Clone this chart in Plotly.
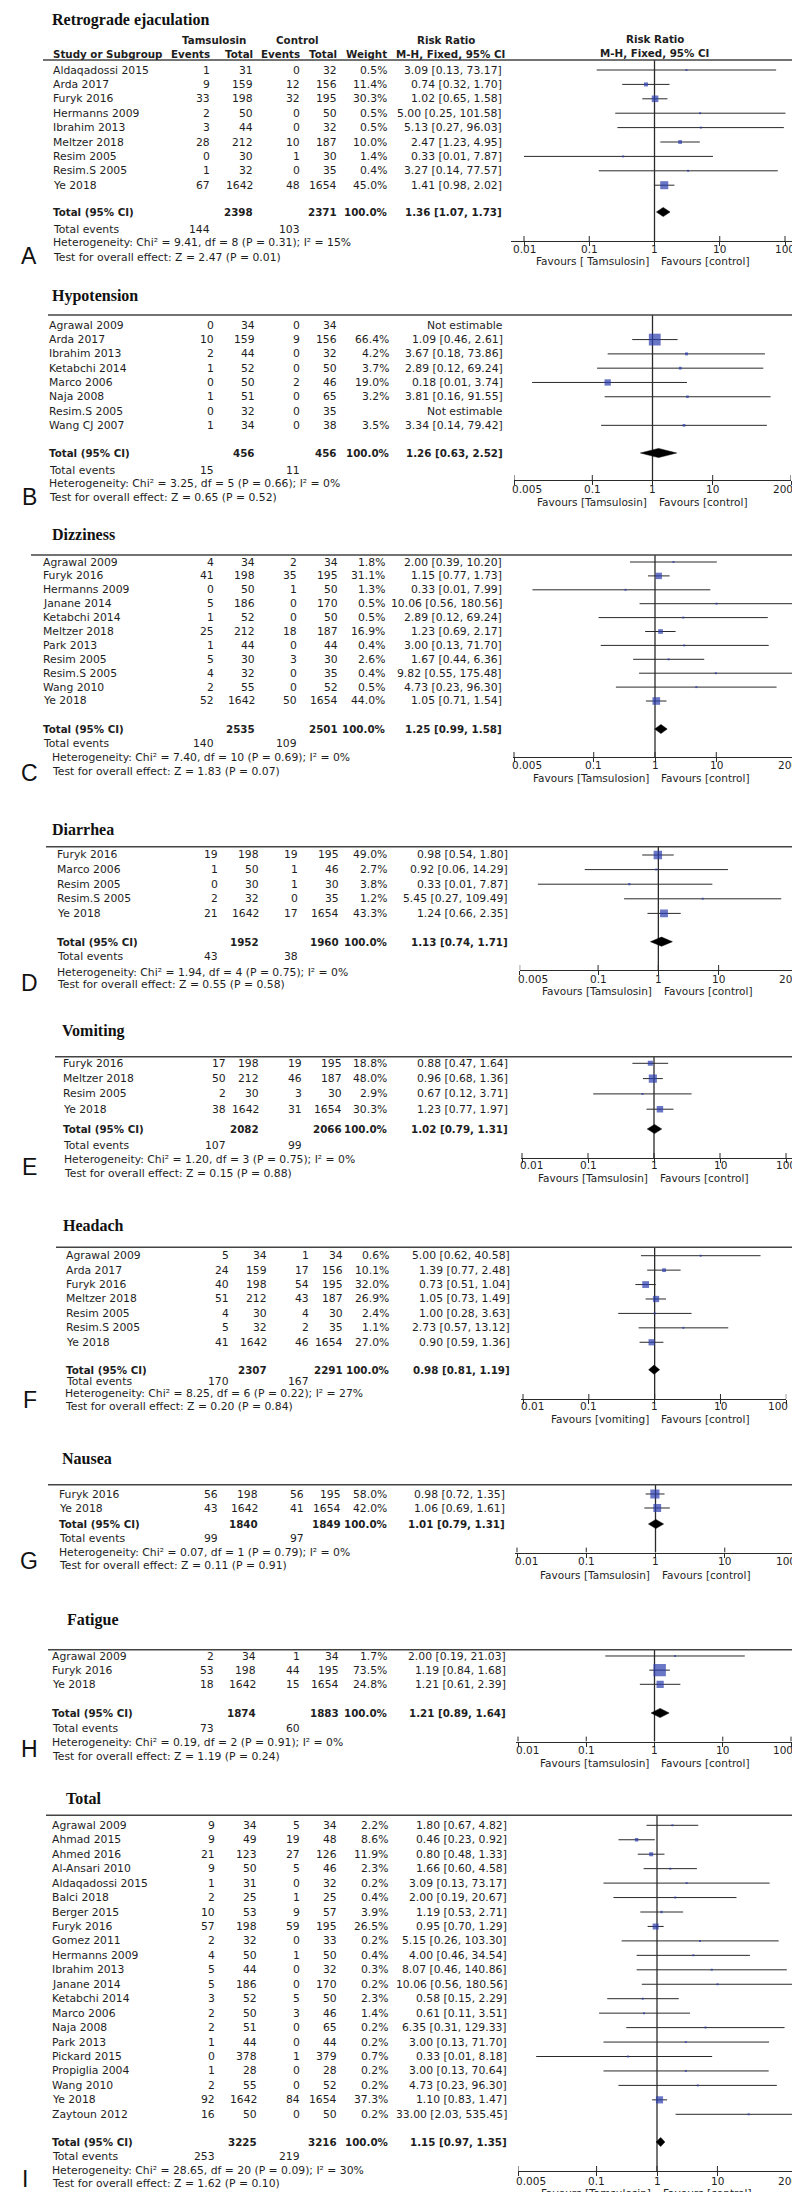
import math
import plotly.graph_objects as go

W, H = 800, 2192

# ======================= DATA =======================
# A  Retrograde ejaculation
retro_study = ["Aldaqadossi 2015", "Arda 2017", "Furyk 2016", "Hermanns 2009", "Ibrahim 2013",
               "Meltzer 2018", "Resim 2005", "Resim.S 2005", "Ye 2018"]
retro_ev_t = [1, 9, 33, 2, 3, 28, 0, 1, 67]
retro_n_t = [31, 159, 198, 50, 44, 212, 30, 32, 1642]
retro_ev_c = [0, 12, 32, 0, 0, 10, 1, 0, 48]
retro_n_c = [32, 156, 195, 50, 32, 187, 30, 35, 1654]
retro_weight = [0.5, 11.4, 30.3, 0.5, 0.5, 10.0, 1.4, 0.4, 45.0]
retro_rr = [3.09, 0.74, 1.02, 5.00, 5.13, 2.47, 0.33, 3.27, 1.41]
retro_lo = [0.13, 0.32, 0.65, 0.25, 0.27, 1.23, 0.01, 0.14, 0.98]
retro_hi = [73.17, 1.70, 1.58, 101.58, 96.03, 4.95, 7.87, 77.57, 2.02]
retro_pooled = [1.36, 1.07, 1.73]
retro_totals = [2398, 2371, 144, 103]
retro_het = [9.41, 8, 0.31, 15]
retro_z = [2.47, 0.01]

# B  Hypotension
hypo_study = ["Agrawal 2009", "Arda 2017", "Ibrahim 2013", "Ketabchi 2014", "Marco 2006",
              "Naja 2008", "Resim.S 2005", "Wang CJ 2007"]
hypo_ev_t = [0, 10, 2, 1, 0, 1, 0, 1]
hypo_n_t = [34, 159, 44, 52, 50, 51, 32, 34]
hypo_ev_c = [0, 9, 0, 0, 2, 0, 0, 0]
hypo_n_c = [34, 156, 32, 50, 46, 65, 35, 38]
hypo_weight = [None, 66.4, 4.2, 3.7, 19.0, 3.2, None, 3.5]
hypo_rr = [None, 1.09, 3.67, 2.89, 0.18, 3.81, None, 3.34]
hypo_lo = [None, 0.46, 0.18, 0.12, 0.01, 0.16, None, 0.14]
hypo_hi = [None, 2.61, 73.86, 69.24, 3.74, 91.55, None, 79.42]
hypo_pooled = [1.26, 0.63, 2.52]
hypo_totals = [456, 456, 15, 11]
hypo_het = [3.25, 5, 0.66, 0]
hypo_z = [0.65, 0.52]

# C  Dizziness
dizz_study = ["Agrawal 2009", "Furyk 2016", "Hermanns 2009", "Janane 2014", "Ketabchi 2014",
              "Meltzer 2018", "Park 2013", "Resim 2005", "Resim.S 2005", "Wang 2010", "Ye 2018"]
dizz_ev_t = [4, 41, 0, 5, 1, 25, 1, 5, 4, 2, 52]
dizz_n_t = [34, 198, 50, 186, 52, 212, 44, 30, 32, 55, 1642]
dizz_ev_c = [2, 35, 1, 0, 0, 18, 0, 3, 0, 0, 50]
dizz_n_c = [34, 195, 50, 170, 50, 187, 44, 30, 35, 52, 1654]
dizz_weight = [1.8, 31.1, 1.3, 0.5, 0.5, 16.9, 0.4, 2.6, 0.4, 0.5, 44.0]
dizz_rr = [2.00, 1.15, 0.33, 10.06, 2.89, 1.23, 3.00, 1.67, 9.82, 4.73, 1.05]
dizz_lo = [0.39, 0.77, 0.01, 0.56, 0.12, 0.69, 0.13, 0.44, 0.55, 0.23, 0.71]
dizz_hi = [10.20, 1.73, 7.99, 180.56, 69.24, 2.17, 71.70, 6.36, 175.48, 96.30, 1.54]
dizz_pooled = [1.25, 0.99, 1.58]
dizz_totals = [2535, 2501, 140, 109]
dizz_het = [7.40, 10, 0.69, 0]
dizz_z = [1.83, 0.07]

# D  Diarrhea
diar_study = ["Furyk 2016", "Marco 2006", "Resim 2005", "Resim.S 2005", "Ye 2018"]
diar_ev_t = [19, 1, 0, 2, 21]
diar_n_t = [198, 50, 30, 32, 1642]
diar_ev_c = [19, 1, 1, 0, 17]
diar_n_c = [195, 46, 30, 35, 1654]
diar_weight = [49.0, 2.7, 3.8, 1.2, 43.3]
diar_rr = [0.98, 0.92, 0.33, 5.45, 1.24]
diar_lo = [0.54, 0.06, 0.01, 0.27, 0.66]
diar_hi = [1.80, 14.29, 7.87, 109.49, 2.35]
diar_pooled = [1.13, 0.74, 1.71]
diar_totals = [1952, 1960, 43, 38]
diar_het = [1.94, 4, 0.75, 0]
diar_z = [0.55, 0.58]

# E  Vomiting
vomi_study = ["Furyk 2016", "Meltzer 2018", "Resim 2005", "Ye 2018"]
vomi_ev_t = [17, 50, 2, 38]
vomi_n_t = [198, 212, 30, 1642]
vomi_ev_c = [19, 46, 3, 31]
vomi_n_c = [195, 187, 30, 1654]
vomi_weight = [18.8, 48.0, 2.9, 30.3]
vomi_rr = [0.88, 0.96, 0.67, 1.23]
vomi_lo = [0.47, 0.68, 0.12, 0.77]
vomi_hi = [1.64, 1.36, 3.71, 1.97]
vomi_pooled = [1.02, 0.79, 1.31]
vomi_totals = [2082, 2066, 107, 99]
vomi_het = [1.20, 3, 0.75, 0]
vomi_z = [0.15, 0.88]

# F  Headach
head_study = ["Agrawal 2009", "Arda 2017", "Furyk 2016", "Meltzer 2018", "Resim 2005",
              "Resim.S 2005", "Ye 2018"]
head_ev_t = [5, 24, 40, 51, 4, 5, 41]
head_n_t = [34, 159, 198, 212, 30, 32, 1642]
head_ev_c = [1, 17, 54, 43, 4, 2, 46]
head_n_c = [34, 156, 195, 187, 30, 35, 1654]
head_weight = [0.6, 10.1, 32.0, 26.9, 2.4, 1.1, 27.0]
head_rr = [5.00, 1.39, 0.73, 1.05, 1.00, 2.73, 0.90]
head_lo = [0.62, 0.77, 0.51, 0.73, 0.28, 0.57, 0.59]
head_hi = [40.58, 2.48, 1.04, 1.49, 3.63, 13.12, 1.36]
head_pooled = [0.98, 0.81, 1.19]
head_totals = [2307, 2291, 170, 167]
head_het = [8.25, 6, 0.22, 27]
head_z = [0.20, 0.84]

# G  Nausea
naus_study = ["Furyk 2016", "Ye 2018"]
naus_ev_t = [56, 43]
naus_n_t = [198, 1642]
naus_ev_c = [56, 41]
naus_n_c = [195, 1654]
naus_weight = [58.0, 42.0]
naus_rr = [0.98, 1.06]
naus_lo = [0.72, 0.69]
naus_hi = [1.35, 1.61]
naus_pooled = [1.01, 0.79, 1.31]
naus_totals = [1840, 1849, 99, 97]
naus_het = [0.07, 1, 0.79, 0]
naus_z = [0.11, 0.91]

# H  Fatigue
fati_study = ["Agrawal 2009", "Furyk 2016", "Ye 2018"]
fati_ev_t = [2, 53, 18]
fati_n_t = [34, 198, 1642]
fati_ev_c = [1, 44, 15]
fati_n_c = [34, 195, 1654]
fati_weight = [1.7, 73.5, 24.8]
fati_rr = [2.00, 1.19, 1.21]
fati_lo = [0.19, 0.84, 0.61]
fati_hi = [21.03, 1.68, 2.39]
fati_pooled = [1.21, 0.89, 1.64]
fati_totals = [1874, 1883, 73, 60]
fati_het = [0.19, 2, 0.91, 0]
fati_z = [1.19, 0.24]

# I  Total
tot_study = ["Agrawal 2009", "Ahmad 2015", "Ahmed 2016", "Al-Ansari 2010", "Aldaqadossi 2015",
             "Balci 2018", "Berger 2015", "Furyk 2016", "Gomez 2011", "Hermanns 2009",
             "Ibrahim 2013", "Janane 2014", "Ketabchi 2014", "Marco 2006", "Naja 2008",
             "Park 2013", "Pickard 2015", "Propiglia 2004", "Wang 2010", "Ye 2018", "Zaytoun 2012"]
tot_ev_t = [9, 9, 21, 9, 1, 2, 10, 57, 2, 4, 5, 5, 3, 2, 2, 1, 0, 1, 2, 92, 16]
tot_n_t = [34, 49, 123, 50, 31, 25, 53, 198, 32, 50, 44, 186, 52, 50, 51, 44, 378, 28, 55, 1642, 50]
tot_ev_c = [5, 19, 27, 5, 0, 1, 9, 59, 0, 1, 0, 0, 5, 3, 0, 0, 1, 0, 0, 84, 0]
tot_n_c = [34, 48, 126, 46, 32, 25, 57, 195, 33, 50, 32, 170, 50, 46, 65, 44, 379, 28, 52, 1654, 50]
tot_weight = [2.2, 8.6, 11.9, 2.3, 0.2, 0.4, 3.9, 26.5, 0.2, 0.4, 0.3, 0.2, 2.3, 1.4, 0.2, 0.2,
              0.7, 0.2, 0.2, 37.3, 0.2]
tot_rr = [1.80, 0.46, 0.80, 1.66, 3.09, 2.00, 1.19, 0.95, 5.15, 4.00, 8.07, 10.06, 0.58, 0.61,
          6.35, 3.00, 0.33, 3.00, 4.73, 1.10, 33.00]
tot_lo = [0.67, 0.23, 0.48, 0.60, 0.13, 0.19, 0.53, 0.70, 0.26, 0.46, 0.46, 0.56, 0.15, 0.11,
          0.31, 0.13, 0.01, 0.13, 0.23, 0.83, 2.03]
tot_hi = [4.82, 0.92, 1.33, 4.58, 73.17, 20.67, 2.71, 1.29, 103.30, 34.54, 140.86, 180.56, 2.29,
          3.51, 129.33, 71.70, 8.18, 70.64, 96.30, 1.47, 535.45]
tot_pooled = [1.15, 0.97, 1.35]
tot_totals = [3225, 3216, 253, 219]
tot_het = [28.65, 20, 0.09, 30]
tot_z = [1.62, 0.10]

ticks_100 = [0.01, 0.1, 1, 10, 100]
ticks_200 = [0.005, 0.1, 1, 10, 200]

panels = [
    dict(letter="A", title="Retrograde ejaculation", study=retro_study, ev_t=retro_ev_t, n_t=retro_n_t,
         ev_c=retro_ev_c, n_c=retro_n_c, w=retro_weight, rr=retro_rr, lo=retro_lo, hi=retro_hi,
         pooled=retro_pooled, totals=retro_totals, het=retro_het, z=retro_z, ticks=ticks_100,
         fav=("Favours [ Tamsulosin]", "Favours [control]")),
    dict(letter="B", title="Hypotension", study=hypo_study, ev_t=hypo_ev_t, n_t=hypo_n_t,
         ev_c=hypo_ev_c, n_c=hypo_n_c, w=hypo_weight, rr=hypo_rr, lo=hypo_lo, hi=hypo_hi,
         pooled=hypo_pooled, totals=hypo_totals, het=hypo_het, z=hypo_z, ticks=ticks_200,
         fav=("Favours [Tamsulosin]", "Favours [control]")),
    dict(letter="C", title="Dizziness", study=dizz_study, ev_t=dizz_ev_t, n_t=dizz_n_t,
         ev_c=dizz_ev_c, n_c=dizz_n_c, w=dizz_weight, rr=dizz_rr, lo=dizz_lo, hi=dizz_hi,
         pooled=dizz_pooled, totals=dizz_totals, het=dizz_het, z=dizz_z, ticks=ticks_200,
         fav=("Favours [Tamsulosion]", "Favours [control]")),
    dict(letter="D", title="Diarrhea", study=diar_study, ev_t=diar_ev_t, n_t=diar_n_t,
         ev_c=diar_ev_c, n_c=diar_n_c, w=diar_weight, rr=diar_rr, lo=diar_lo, hi=diar_hi,
         pooled=diar_pooled, totals=diar_totals, het=diar_het, z=diar_z, ticks=ticks_200,
         fav=("Favours [Tamsulosin]", "Favours [control]")),
    dict(letter="E", title="Vomiting", study=vomi_study, ev_t=vomi_ev_t, n_t=vomi_n_t,
         ev_c=vomi_ev_c, n_c=vomi_n_c, w=vomi_weight, rr=vomi_rr, lo=vomi_lo, hi=vomi_hi,
         pooled=vomi_pooled, totals=vomi_totals, het=vomi_het, z=vomi_z, ticks=ticks_100,
         fav=("Favours [Tamsulosin]", "Favours [control]")),
    dict(letter="F", title="Headach", study=head_study, ev_t=head_ev_t, n_t=head_n_t,
         ev_c=head_ev_c, n_c=head_n_c, w=head_weight, rr=head_rr, lo=head_lo, hi=head_hi,
         pooled=head_pooled, totals=head_totals, het=head_het, z=head_z, ticks=ticks_100,
         fav=("Favours [vomiting]", "Favours [control]")),
    dict(letter="G", title="Nausea", study=naus_study, ev_t=naus_ev_t, n_t=naus_n_t,
         ev_c=naus_ev_c, n_c=naus_n_c, w=naus_weight, rr=naus_rr, lo=naus_lo, hi=naus_hi,
         pooled=naus_pooled, totals=naus_totals, het=naus_het, z=naus_z, ticks=ticks_100,
         fav=("Favours [Tamsulosin]", "Favours [control]")),
    dict(letter="H", title="Fatigue", study=fati_study, ev_t=fati_ev_t, n_t=fati_n_t,
         ev_c=fati_ev_c, n_c=fati_n_c, w=fati_weight, rr=fati_rr, lo=fati_lo, hi=fati_hi,
         pooled=fati_pooled, totals=fati_totals, het=fati_het, z=fati_z, ticks=ticks_100,
         fav=("Favours [tamsulosin]", "Favours [control]")),
    dict(letter="I", title="Total", study=tot_study, ev_t=tot_ev_t, n_t=tot_n_t,
         ev_c=tot_ev_c, n_c=tot_n_c, w=tot_weight, rr=tot_rr, lo=tot_lo, hi=tot_hi,
         pooled=tot_pooled, totals=tot_totals, het=tot_het, z=tot_z, ticks=ticks_200,
         fav=("Favours [Tamsulosin]", "Favours [control]")),
]

# ======================= LAYOUT (pixel positions / styles) =======================
LAYOUT = [
    dict(title_y=12, title_x=43, hline=52, hline_x=(35, 798), row0=62, sp=14.4, total=204,
         events=221, het=235, test=249, letter=(21, 248), axis=233, ticklab=241, fav=253.5,
         cols=(44, 203, 246, 293, 330, 380, 495), het_x=44, tick_px=(516, 777),
         line_px=(503, 788), box_k=1.2),
    dict(title_y=288, title_x=43, hline=307, hline_x=(40, 793), row0=317.3, sp=14.29, total=445,
         events=462, het=476, test=490, letter=(21, 489), axis=472, ticklab=481, fav=493.5,
         cols=(40, 207, 248, 293, 330, 382, 496), het_x=40, tick_px=(506, 783),
         line_px=(506, 783), box_k=1.45),
    dict(title_y=526, title_x=43, hline=547, hline_x=(23, 798), row0=554, sp=13.9, total=721,
         events=735.7, het=749.7, test=763, letter=(21, 765), axis=749, ticklab=757, fav=770,
         cols=(34, 207, 248, 290, 331, 378, 495), het_x=43, tick_px=(506, 788),
         line_px=(505, 789), box_k=1.15),
    dict(title_y=821, title_x=43, hline=838.7, hline_x=(38, 798), row0=847, sp=14.6, total=933.7,
         events=948, het=964.7, test=977, letter=(21, 975), axis=962, ticklab=970.5, fav=983,
         cols=(48, 211, 252, 291, 332, 380, 501), het_x=48, tick_px=(511.7, 789),
         line_px=(511.7, 789), box_k=1.2),
    dict(title_y=1023, title_x=53, hline=1048.7, hline_x=(47, 800), row0=1055.3, sp=15.3,
         total=1121, events=1137.7, het=1151.7, test=1165, letter=(21, 1159), axis=1150,
         ticklab=1157, fav=1170, cols=(54, 219, 252, 295, 335, 380, 501), het_x=55,
         tick_px=(514, 778), line_px=(513, 790), box_k=1.17),
    dict(title_y=1217.7, title_x=54, hline=1239.3, hline_x=(48, 787), row0=1247.7, sp=14.43,
         total=1361.7, events=1373, het=1385, test=1398.3, letter=(22, 1392), axis=1391,
         ticklab=1398, fav=1411, cols=(57, 221.7, 260, 301.7, 336, 382, 503), het_x=56,
         tick_px=(515, 778.3), line_px=(513, 778.3), box_k=1.2),
    dict(title_y=1450, title_x=53, hline=1476.7, hline_x=(40, 798), row0=1486, sp=14, total=1516,
         events=1530, het=1544, test=1557.3, letter=(21, 1553), axis=1544.6, ticklab=1553.4,
         fav=1567, cols=(50, 210.7, 250.7, 296.7, 334, 380, 498), het_x=50, tick_px=(509, 786),
         line_px=(507, 787), box_k=1.2),
    dict(title_y=1611.7, title_x=58, hline=1641.7, hline_x=(40, 798), row0=1648, sp=14.15,
         total=1705, events=1720, het=1734, test=1748, letter=(21, 1741), axis=1733.6,
         ticklab=1742, fav=1755, cols=(43, 207, 249, 293, 332, 380, 499), het_x=43,
         tick_px=(510, 783), line_px=(508, 785), box_k=1.45),
    dict(title_y=1790.7, title_x=57, hline=1807.3, hline_x=(38, 798), row0=1817.3, sp=14.45,
         total=2134, events=2148, het=2162.3, test=2175.3, letter=(17, 2171), axis=2163,
         ticklab=2172.6, fav=2185, cols=(43, 208, 250, 293, 330, 381, 500), het_x=43,
         tick_px=(510, 788), line_px=(510, 788), box_k=1.17),
]

FONT = "DejaVu Sans"
TS = 10.8       # regular table text
TSB = 10.3      # bold table text
TSA = 10.5      # axis text
INK = "#1e1e1e"
BLUE = "#2b3cae"
LINE = "#2a2a2a"

annotations, shapes, traces = [], [], []
layout_axes = {}


def ptxt(xpx, ypx, text, xanchor="left", size=None, family=FONT, bold=False, color=INK):
    if size is None:
        size = TSB if bold else TS
    if bold:
        text = "<b>" + text + "</b>"
    annotations.append(dict(x=xpx / W, y=1 - ypx / H, xref="paper", yref="paper", text=text,
                            showarrow=False, xanchor=xanchor, yanchor="middle", borderpad=0,
                            font=dict(family=family, size=size, color=color)))


def atxt(xref, xval_log, ypx, text, xanchor="center", xshift=0, bold=False):
    size = TSB if bold else TSA
    if bold:
        text = "<b>" + text + "</b>"
    annotations.append(dict(x=xval_log, y=1 - ypx / H, xref=xref, yref="paper", text=text,
                            showarrow=False, xanchor=xanchor, yanchor="middle", xshift=xshift,
                            borderpad=0, font=dict(family=FONT, size=size, color=INK)))


def rr_text(r, l, h):
    return f"{r:.2f} [{l:.2f}, {h:.2f}]"


for k, (d, L) in enumerate(zip(panels, LAYOUT), start=1):
    xr = "x" if k == 1 else f"x{k}"
    yr = "y" if k == 1 else f"y{k}"
    xa = "xaxis" if k == 1 else f"xaxis{k}"
    ya = "yaxis" if k == 1 else f"yaxis{k}"

    ticks = d["ticks"]
    t0, t1 = math.log10(ticks[0]), math.log10(ticks[-1])
    dec = (L["tick_px"][1] - L["tick_px"][0]) / (t1 - t0)
    r_lo = t0 - (L["tick_px"][0] - L["line_px"][0]) / dec
    r_hi = t1 + (L["line_px"][1] - L["tick_px"][1]) / dec
    row0, sp = L["row0"], L["sp"]

    def yv(px):
        return (px - row0) / sp

    y_bot, y_top = yv(L["axis"]), yv(L["hline"])
    y_tot = yv(L["total"])

    layout_axes[xa] = dict(type="log", domain=[L["line_px"][0] / W, L["line_px"][1] / W],
                           range=[r_lo, r_hi], anchor=yr, showline=True, linecolor=LINE,
                           linewidth=1, ticks="outside", ticklen=4, tickwidth=1,
                           tickcolor=LINE, tickmode="array", tickvals=ticks,
                           showticklabels=False, showgrid=False, zeroline=False,
                           fixedrange=True)
    layout_axes[ya] = dict(domain=[1 - L["axis"] / H, 1 - L["hline"] / H],
                           range=[y_bot, y_top], anchor=xr, visible=False,
                           showgrid=False, zeroline=False, fixedrange=True)

    n = len(d["study"])
    est = [i for i in range(n) if d["rr"][i] is not None]

    # CI lines
    cx, cy = [], []
    for i in est:
        cx += [d["lo"][i], d["hi"][i], None]
        cy += [i, i, None]
    traces.append(go.Scatter(x=cx, y=cy, mode="lines", line=dict(color=LINE, width=1),
                             xaxis=xr, yaxis=yr, hoverinfo="skip"))
    # null line at RR = 1
    traces.append(go.Scatter(x=[1, 1], y=[y_top, y_bot], mode="lines",
                             line=dict(color=LINE, width=1.3), xaxis=xr, yaxis=yr,
                             hoverinfo="skip"))
    # upward half of tick marks
    tx, ty = [], []
    for tv in ticks:
        tx += [tv, tv, None]
        ty += [y_bot, y_bot - 5 / sp, None]
    traces.append(go.Scatter(x=tx, y=ty, mode="lines", line=dict(color=LINE, width=1),
                             xaxis=xr, yaxis=yr, hoverinfo="skip"))
    # squares
    traces.append(go.Scatter(
        x=[d["rr"][i] for i in est], y=est, mode="markers",
        marker=dict(symbol="square", color=BLUE, line=dict(width=0),
                    size=[max(2.0, L["box_k"] * math.sqrt(d["w"][i])) for i in est]),
        xaxis=xr, yaxis=yr, hoverinfo="skip"))
    # arrows for CIs running off the scale
    ax_max = 10 ** r_hi
    off = [i for i in est if d["hi"][i] > ax_max]
    if off:
        traces.append(go.Scatter(x=[ax_max * 0.97] * len(off), y=off, mode="markers",
                                 marker=dict(symbol="triangle-right", size=7, color=LINE),
                                 xaxis=xr, yaxis=yr, hoverinfo="skip", cliponaxis=False))
    # pooled diamond
    pr, pl, ph = d["pooled"]
    hh = 4.6 / sp
    traces.append(go.Scatter(x=[pl, pr, ph, pr, pl], y=[y_tot, y_tot - hh, y_tot, y_tot + hh, y_tot],
                             mode="lines", fill="toself", fillcolor="black",
                             line=dict(color="black", width=0.5), xaxis=xr, yaxis=yr,
                             hoverinfo="skip"))

    # header line
    shapes.append(dict(type="line", xref="paper", yref="paper",
                       x0=L["hline_x"][0] / W, x1=L["hline_x"][1] / W,
                       y0=1 - L["hline"] / H, y1=1 - L["hline"] / H,
                       line=dict(color="#444", width=1.6)))

    # title & letter
    ptxt(L["title_x"], L["title_y"], "<b>" + d["title"] + "</b>", family="Liberation Serif",
         size=16, color="#111")
    ptxt(L["letter"][0], L["letter"][1], d["letter"], xanchor="center",
         family="Liberation Sans", size=23, color="#111")

    cname, cev1, cn1, cev2, cn2, cw, crr = L["cols"]
    for i in range(n):
        ypx = row0 + i * sp
        ptxt(cname, ypx, d["study"][i])
        ptxt(cev1, ypx, str(d["ev_t"][i]), "right")
        ptxt(cn1, ypx, str(d["n_t"][i]), "right")
        ptxt(cev2, ypx, str(d["ev_c"][i]), "right")
        ptxt(cn2, ypx, str(d["n_c"][i]), "right")
        if d["rr"][i] is None:
            ptxt(crr, ypx, "Not estimable", "right")
        else:
            ptxt(cw, ypx, f"{d['w'][i]:.1f}%", "right")
            ptxt(crr, ypx, rr_text(d["rr"][i], d["lo"][i], d["hi"][i]), "right")

    nt, nc, et, ec = d["totals"]
    ptxt(cname, L["total"], "Total (95% CI)", bold=True)
    ptxt(cn1, L["total"], str(nt), "right", bold=True)
    ptxt(cn2, L["total"], str(nc), "right", bold=True)
    ptxt(cw, L["total"], "100.0%", "right", bold=True)
    ptxt(crr, L["total"], rr_text(pr, pl, ph), "right", bold=True)
    ptxt(cname, L["events"], "Total events")
    ptxt(cev1, L["events"], str(et), "right")
    ptxt(cev2, L["events"], str(ec), "right")
    chi, df, p, i2 = d["het"]
    ptxt(L["het_x"], L["het"],
         f"Heterogeneity: Chi² = {chi:.2f}, df = {df} (P = {p:.2f}); I² = {i2}%")
    zz, pz = d["z"]
    ptxt(L["het_x"], L["test"], f"Test for overall effect: Z = {zz:.2f} (P = {pz:.2f})")

    # axis labels (end labels sit inward when the tick is at the end of the axis line)
    for j, tv in enumerate(ticks):
        anchor, shift = "center", 0
        if j == 0 and L["tick_px"][0] - L["line_px"][0] < 3:
            anchor, shift = "left", -3
        if j == len(ticks) - 1 and L["line_px"][1] - L["tick_px"][1] < 3:
            anchor, shift = "right", 3
        atxt(xr, math.log10(tv), L["ticklab"], f"{tv:g}", xanchor=anchor, xshift=shift)
    atxt(xr, 0, L["fav"], d["fav"][0], xanchor="right", xshift=-5)
    atxt(xr, 0, L["fav"], d["fav"][1], xanchor="left", xshift=5)

    if k == 1:
        ptxt(206, 32, "Tamsulosin", "center", bold=True)
        ptxt(289, 32, "Control", "center", bold=True)
        ptxt(438, 32, "Risk Ratio", "center", bold=True)
        atxt(xr, 0, 31, "Risk Ratio", bold=True)
        ptxt(cname, 46, "Study or Subgroup", bold=True)
        ptxt(cev1, 46, "Events", "right", bold=True)
        ptxt(cn1, 46, "Total", "right", bold=True)
        ptxt(cev2, 46, "Events", "right", bold=True)
        ptxt(cn2, 46, "Total", "right", bold=True)
        ptxt(cw, 46, "Weight", "right", bold=True)
        ptxt(442, 46, "M-H, Fixed, 95% CI", "center", bold=True)
        atxt(xr, 0, 45, "M-H, Fixed, 95% CI", bold=True)

fig = go.Figure(data=traces)
fig.update_layout(width=W, height=H, margin=dict(l=0, r=0, t=0, b=0),
                  paper_bgcolor="white", plot_bgcolor="rgba(0,0,0,0)", showlegend=False,
                  annotations=annotations, shapes=shapes, **layout_axes)
fig.write_html("out.html")
